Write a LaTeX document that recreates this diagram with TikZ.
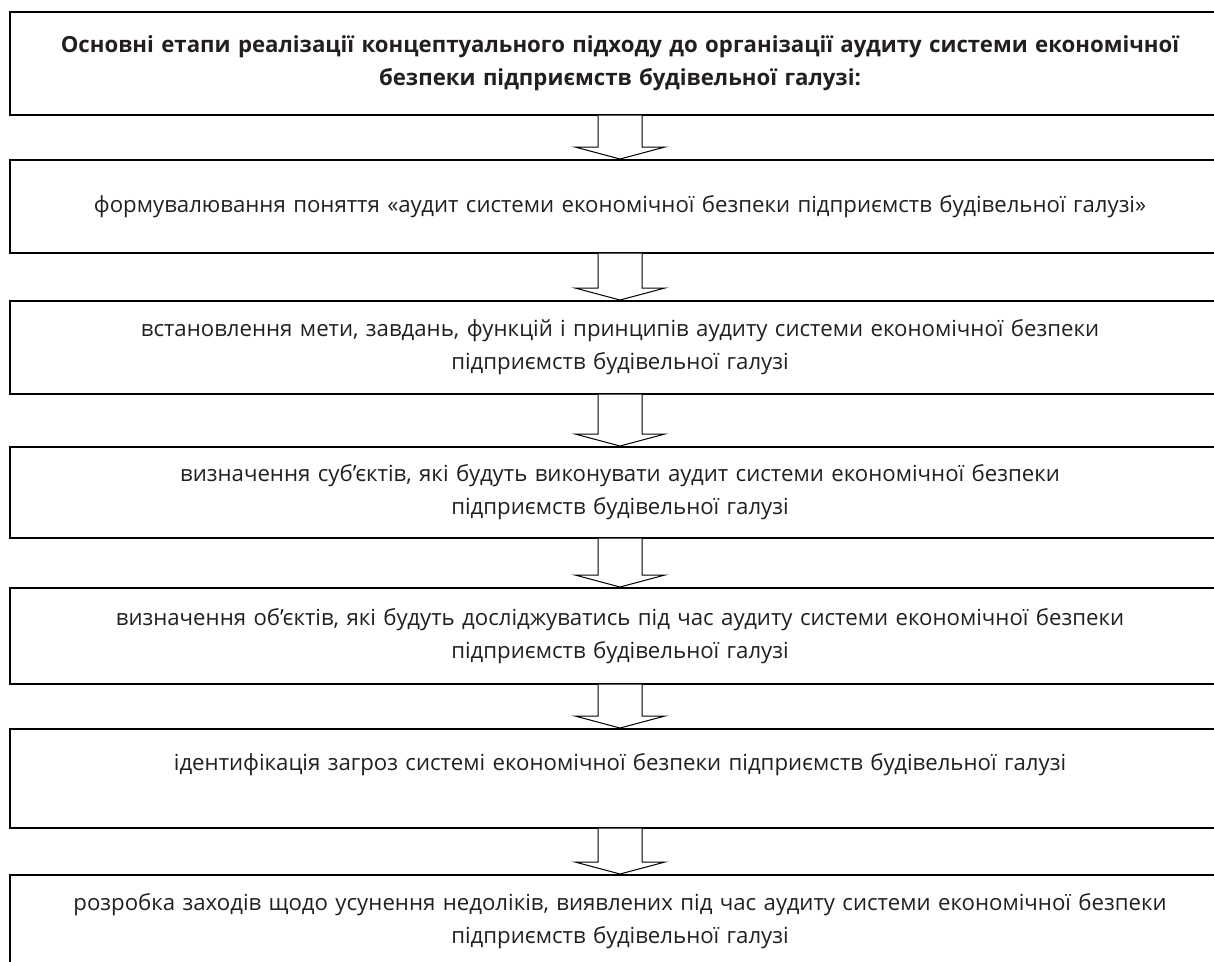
\documentclass[tikz,border=0pt]{standalone}
\usepackage{fontspec}
\setmainfont{Open Sans}
\usetikzlibrary{calc}
\definecolor{ink}{HTML}{231F20}
\newcommand\flowarr[2]{%
  \draw[arr] let \p1=(#1.south), \p2=(#2.north) in
    (\x1-22pt,\y1) -- (\x1-22pt,\y2+12pt) -- (\x1-45pt,\y2+12pt) -- (\x1,\y2)
    -- (\x1+45pt,\y2+12pt) -- (\x1+22pt,\y2+12pt) -- (\x1+22pt,\y1);}
\begin{document}
\begin{tikzpicture}[x=1pt,y=-1pt,
  box/.style={draw=black, line width=1.5pt, minimum width=1220pt, minimum height=#1,
    anchor=north, align=center, inner sep=0pt, text=ink,
    font=\fontsize{22.2}{33}\selectfont, text width=1200pt},
  arr/.style={draw=black, line width=1pt, fill=white, line join=miter}]
\useasboundingbox (0,0) rectangle (1214,961);
\node[box=103pt] (b1) at (620,11) {\bfseries Основні етапи реалізації концептуального підходу до організації аудиту системи економічної\\\bfseries безпеки підприємств будівельної галузі:};
\node[box=93pt] (b2) at (620,159) {формувалювання поняття «аудит системи економічної безпеки підприємств будівельної галузі»};
\node[box=93pt] (b3) at (620,300) {встановлення мети, завдань, функцій і принципів аудиту системи економічної безпеки\\підприємств будівельної галузі};
\node[box=91pt] (b4) at (620,446) {визначення суб’єктів, які будуть виконувати аудит системи економічної безпеки\\підприємств будівельної галузі};
\node[box=96pt] (b5) at (620,587) {визначення об’єктів, які будуть досліджуватись під час аудиту системи економічної безпеки\\підприємств будівельної галузі};
\node[box=99pt] (b6) at (620,728) {ідентифікація загроз системі економічної безпеки підприємств будівельної галузі\\\mbox{}};
\node[box=93pt] (b7) at (620,874) {розробка заходів щодо усунення недоліків, виявлених під час аудиту системи економічної безпеки\\підприємств будівельної галузі};
\flowarr{b1}{b2}
\flowarr{b2}{b3}
\flowarr{b3}{b4}
\flowarr{b4}{b5}
\flowarr{b5}{b6}
\flowarr{b6}{b7}
\end{tikzpicture}
\end{document}
